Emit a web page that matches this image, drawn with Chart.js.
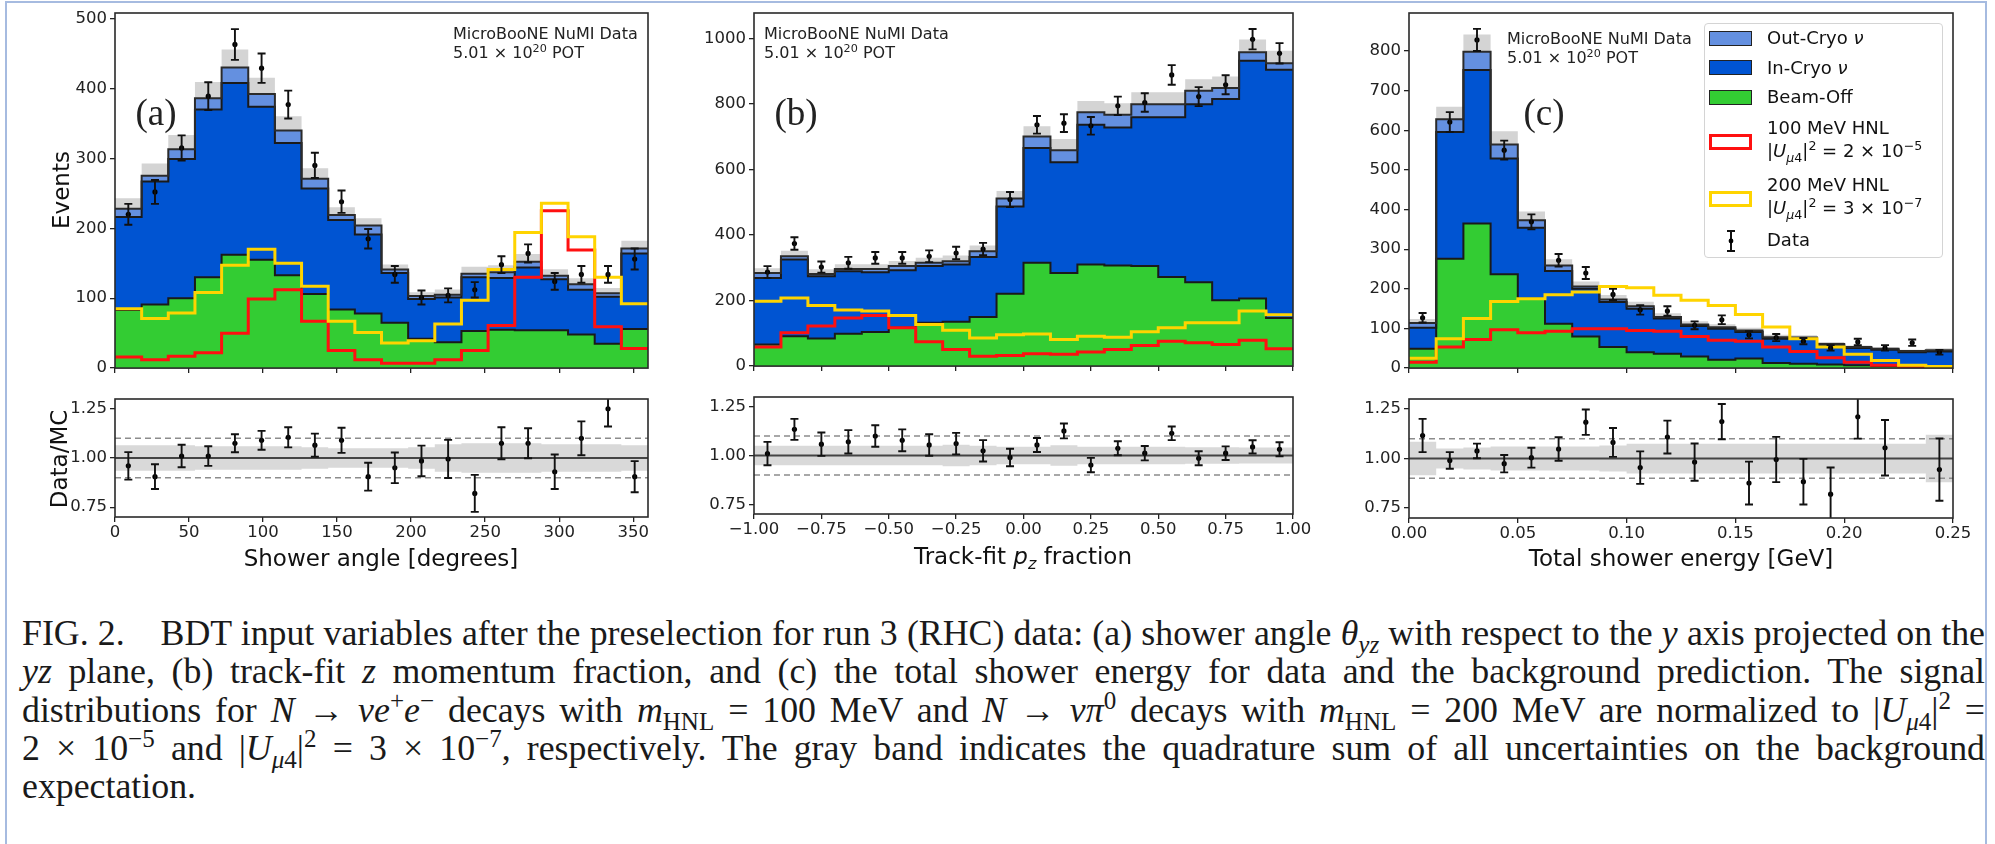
<!DOCTYPE html>
<html>
<head>
<meta charset="utf-8">
<script src="https://cdn.jsdelivr.net/npm/chart.js@4.4.1/dist/chart.umd.min.js"></script>
<style>
  html, body { margin: 0; padding: 0; background: #fff; }
  body { width: 1995px; height: 844px; position: relative; overflow: hidden;
         font-family: "DejaVu Sans", sans-serif; color: #111; }
  .frame { position: absolute; left: 5px; top: 1px; width: 1982px; height: 900px;
           border: 2px solid #a6bbe0; border-bottom: none; box-sizing: border-box; }
  .panel { position: absolute; }
  .t { position: absolute; white-space: nowrap; line-height: 1; }
  .c { transform: translate(-50%, -50%); }
  .l { transform: translate(0, -50%); }
  .rot { transform: translate(-50%, -50%) rotate(-90deg); }
  .axt { font-size: 23px; color: #111; }
  .tag { font-family: "Liberation Serif", serif; font-size: 37px; color: #222; }
  .note { font-size: 16px; color: #222; }
  sup, sub { line-height: 0; font-size: 0.7em; }
  .legend { position: absolute; left: 1704px; top: 23px; width: 239px; height: 235px;
            border: 1px solid #d4d4d4; border-radius: 4px; background: rgba(255,255,255,0.85);
            box-sizing: border-box; }
  .patch { position: absolute; left: 1709px; width: 43px; height: 15px; box-sizing: border-box; }
  .lt { font-size: 18px; color: #111; }
  .caption { position: absolute; left: 22px; top: 614px; width: 1963px;
             font-family: "Liberation Serif", "Times New Roman", serif; font-size: 36px; color: #1a1a1a; }
  .caption div { height: 38.3px; line-height: 38.3px; text-align: justify; text-align-last: justify; }
  .caption div.last { text-align-last: left; }
  .caption i { font-style: italic; }
</style>
</head>
<body>
<div class="frame"></div>

<script>
// ---------------- binning and tick marks ----------------
const nBins = 20;
const angleRange = [0, 360];
const pzRange = [-1, 1];
const energyRange = [0, 0.25];

const angleTicks = [0, 50, 100, 150, 200, 250, 300, 350];
const angleTickLabels = ["0", "50", "100", "150", "200", "250", "300", "350"];
const pzTicks = [-1, -0.75, -0.5, -0.25, 0, 0.25, 0.5, 0.75, 1];
const pzTickLabels = ["\u22121.00", "\u22120.75", "\u22120.50", "\u22120.25", "0.00", "0.25", "0.50", "0.75", "1.00"];
const energyTicks = [0, 0.05, 0.1, 0.15, 0.2, 0.25];
const energyTickLabels = ["0.00", "0.05", "0.10", "0.15", "0.20", "0.25"];

const eventsTicksA = [0, 100, 200, 300, 400, 500];
const eventsTicksB = [0, 200, 400, 600, 800, 1000];
const eventsTicksC = [0, 100, 200, 300, 400, 500, 600, 700, 800];
const ratioTicks = [0.75, 1.0, 1.25];
const ratioTickLabels = ["0.75", "1.00", "1.25"];

// ---------------- (a) shower angle ----------------
const angleBeamOff = [83, 91, 100, 130, 162, 155, 133, 106, 84, 78, 65, 42, 37, 53, 55, 54, 54, 48, 35, 56];
const angleInCryo  = [133, 176, 199, 240, 246, 219, 189, 151, 128, 113, 71, 57, 64, 77, 74, 90, 73, 64, 67, 108];
const angleOutCryo = [12, 8, 14, 16, 22, 18, 18, 14, 7, 13, 5, 4, 4, 5, 8, 8, 5, 8, 5, 7];
const angleBand    = [0.065, 0.065, 0.065, 0.06, 0.06, 0.06, 0.06, 0.055, 0.05, 0.05, 0.05, 0.055, 0.07, 0.075, 0.075, 0.075, 0.07, 0.07, 0.07, 0.065];
const angleHnl100  = [16, 12, 17, 22, 50, 99, 112, 67, 25, 12, 7, 7, 12, 25, 61, 130, 225, 169, 59, 28];
const angleHnl200  = [85, 71, 79, 108, 147, 170, 150, 117, 67, 51, 36, 39, 63, 97, 141, 194, 236, 188, 130, 92];
const angleData    = [220, 252, 315, 389, 463, 429, 377, 290, 238, 185, 134, 101, 104, 112, 148, 164, 124, 134, 134, 156];
const angleDataErr = [15, 17, 18, 20, 22, 21, 20, 18, 16, 14, 12, 10, 10, 11, 12, 13, 12, 12, 12, 15];
const angleRatio    = [0.96, 0.905, 1.01, 1.01, 1.075, 1.09, 1.105, 1.065, 1.09, 0.905, 0.95, 0.985, 0.995, 0.82, 1.075, 1.075, 0.93, 1.10, 1.25, 0.905];
const angleRatioErr = [0.07, 0.063, 0.057, 0.05, 0.046, 0.048, 0.051, 0.059, 0.064, 0.071, 0.078, 0.078, 0.097, 0.094, 0.081, 0.076, 0.088, 0.086, 0.09, 0.079];

// ---------------- (b) track-fit pz fraction ----------------
const pzBeamOff = [66, 91, 84, 99, 104, 117, 132, 135, 150, 221, 315, 284, 310, 307, 305, 272, 256, 201, 206, 147];
const pzInCryo  = [203, 234, 190, 190, 182, 175, 173, 175, 183, 266, 350, 338, 426, 421, 454, 487, 543, 614, 725, 757];
const pzOutCryo = [15, 10, 7, 7, 10, 13, 10, 10, 17, 24, 35, 36, 38, 39, 40, 40, 41, 33, 26, 20];
const pzBand    = [0.05, 0.05, 0.05, 0.05, 0.05, 0.05, 0.05, 0.055, 0.05, 0.045, 0.045, 0.053, 0.045, 0.045, 0.045, 0.045, 0.042, 0.042, 0.041, 0.041];
const pzHnl100  = [58, 102, 122, 147, 154, 117, 74, 51, 30, 32, 38, 36, 43, 51, 63, 76, 71, 66, 79, 53];
const pzHnl200  = [198, 208, 185, 171, 168, 154, 127, 109, 86, 96, 98, 81, 91, 88, 105, 117, 132, 132, 168, 157];
const pzData    = [287, 374, 302, 315, 330, 330, 335, 345, 357, 508, 736, 741, 733, 794, 804, 888, 822, 858, 997, 954];
const pzDataErr = [18, 19, 17, 18, 18, 18, 18, 19, 19, 23, 27, 27, 27, 28, 28, 30, 29, 29, 31, 31];
const pzRatio    = [1.01, 1.134, 1.058, 1.07, 1.10, 1.078, 1.054, 1.061, 1.024, 0.99, 1.054, 1.126, 0.951, 1.037, 1.012, 1.114, 0.986, 1.012, 1.044, 1.032];
const pzRatioErr = [0.06, 0.054, 0.06, 0.06, 0.055, 0.056, 0.055, 0.055, 0.055, 0.045, 0.036, 0.038, 0.037, 0.036, 0.037, 0.035, 0.036, 0.035, 0.034, 0.036];

// ---------------- (c) total shower energy ----------------
const energyBeamOff = [49, 276, 365, 237, 175, 112, 80, 53, 40, 36, 29, 21, 24, 13, 11, 9, 7, 5, 3, 2];
const energyInCryo  = [53, 320, 387, 292, 179, 133, 120, 114, 110, 89, 77, 78, 67, 61, 63, 50, 44, 41, 37, 40];
const energyOutCryo = [12, 32, 46, 35, 19, 14, 6, 6, 6, 4, 4, 4, 4, 4, 3, 2, 2, 3, 3, 3];
const energyBand    = [0.085, 0.05, 0.055, 0.06, 0.06, 0.06, 0.06, 0.065, 0.075, 0.075, 0.075, 0.075, 0.075, 0.075, 0.075, 0.075, 0.075, 0.075, 0.075, 0.12];
const energyHnl100  = [15, 53, 72, 97, 89, 93, 99, 99, 95, 93, 80, 70, 68, 53, 42, 26, 15, 7, 4, 2];
const energyHnl200  = [25, 74, 125, 168, 175, 185, 192, 206, 203, 184, 171, 158, 135, 104, 74, 53, 35, 19, 7, 4];
const energyData    = [127, 621, 828, 550, 369, 272, 240, 186, 147, 144, 108, 122, 84, 77, 68, 51, 66, 51, 64, 40];
const energyDataErr = [12, 25, 28, 24, 19, 16, 15, 14, 12, 12, 10, 11, 9, 9, 8, 7, 8, 7, 8, 6];
const energyRatio    = [1.116, 0.99, 1.038, 0.974, 1.004, 1.048, 1.183, 1.081, 0.954, 1.108, 0.982, 1.186, 0.876, 0.995, 0.883, 0.82, 1.21, 1.054, 1.49, 0.944];
const energyRatioErr = [0.084, 0.042, 0.037, 0.044, 0.05, 0.059, 0.064, 0.073, 0.082, 0.083, 0.094, 0.089, 0.108, 0.114, 0.115, 0.135, 0.11, 0.14, 0.15, 0.157];

// ---------------- style ----------------
const C_OUT = "#6490e0", C_IN = "#0054d2", C_OFF = "#33cc33";
const C_RED = "#ff1010", C_GOLD = "#ffd400", C_EDGE = "#1a1a1a";
const C_BAND = "#d4d4d4", C_RBAND = "#d9d9d9";

Chart.defaults.font.family = "'DejaVu Sans', sans-serif";
Chart.defaults.font.size = 16.5;
Chart.defaults.color = "#222";
Chart.defaults.animation = false;

// ---------------- helpers ----------------
function binEdges(range, n) {
  return Array.from({ length: n + 1 }, (_, i) => range[0] + (range[1] - range[0]) * i / n);
}
function binCenters(edges) {
  return edges.slice(0, -1).map((e, i) => 0.5 * (e + edges[i + 1]));
}
function stepPoints(edges, vals) {
  return edges.map((x, i) => ({ x, y: vals[Math.min(i, vals.length - 1)] }));
}
function fixedTicks(values) {
  return s => { s.ticks = values.map(v => ({ value: v })); };
}

// full box around each axes
const frameBox = {
  id: "frameBox",
  afterDraw(chart) {
    const a = chart.chartArea, ctx = chart.ctx;
    ctx.save();
    ctx.strokeStyle = "#2a2a2a";
    ctx.lineWidth = 1.6;
    ctx.strokeRect(a.left, a.top, a.right - a.left, a.bottom - a.top);
    ctx.restore();
  }
};

// vertical error bars with caps for datasets carrying an errorBars array
const errorBars = {
  id: "errorBars",
  afterDatasetsDraw(chart) {
    const { ctx, chartArea: a, scales: { x, y } } = chart;
    ctx.save();
    ctx.beginPath();
    ctx.rect(a.left, a.top, a.right - a.left, a.bottom - a.top);
    ctx.clip();
    ctx.strokeStyle = "#111";
    ctx.lineWidth = 1.9;
    chart.data.datasets.forEach(ds => {
      if (!ds.errorBars) return;
      ds.data.forEach((p, i) => {
        const e = ds.errorBars[i];
        const px = x.getPixelForValue(p.x);
        const y1 = y.getPixelForValue(p.y - e), y2 = y.getPixelForValue(p.y + e);
        ctx.beginPath();
        ctx.moveTo(px, y1); ctx.lineTo(px, y2);
        ctx.moveTo(px - 4, y1); ctx.lineTo(px + 4, y1);
        ctx.moveTo(px - 4, y2); ctx.lineTo(px + 4, y2);
        ctx.stroke();
      });
    });
    ctx.restore();
  }
};

const tickGrid = { drawOnChartArea: false, drawTicks: true, tickLength: 5, color: "#222", lineWidth: 1.3 };

function baseOptions(xRange, xTicks, xLabels, yRange, yTicks, yLabels, showX) {
  return {
    responsive: false,
    maintainAspectRatio: false,
    animation: false,
    events: [],
    layout: { padding: { top: 14, right: 28, left: 0, bottom: 0 } },
    plugins: { legend: { display: false }, tooltip: { enabled: false },
               filler: { drawTime: "beforeDatasetsDraw" } },
    elements: { line: { tension: 0 }, point: { radius: 0 } },
    scales: {
      x: {
        type: "linear", min: xRange[0], max: xRange[1],
        afterBuildTicks: fixedTicks(xTicks),
        ticks: { display: showX, autoSkip: false, maxRotation: 0, padding: 1,
                 callback: (v, i) => xLabels[i] },
        grid: tickGrid, border: { display: false },
        afterFit: s => { s.height = showX ? 30 : 6; }
      },
      y: {
        type: "linear", min: yRange[0], max: yRange[1],
        afterBuildTicks: fixedTicks(yTicks),
        ticks: { autoSkip: false, padding: 3, callback: (v, i) => yLabels[i] },
        grid: tickGrid, border: { display: false },
        afterFit: s => { s.width = 64; }
      }
    }
  };
}

function mainConfig(p) {
  const edges = binEdges(p.range, nBins);
  const centers = binCenters(edges);
  const offTop = p.beamOff.slice();
  const inTop = offTop.map((v, i) => v + p.inCryo[i]);
  const total = inTop.map((v, i) => v + p.outCryo[i]);
  const bandLo = total.map((v, i) => v * (1 - p.band[i]));
  const bandHi = total.map((v, i) => v * (1 + p.band[i]));
  const stepLine = { stepped: true, pointRadius: 0 };
  return {
    type: "line",
    data: {
      datasets: [
        { ...stepLine, data: stepPoints(edges, bandLo), borderWidth: 0, fill: false, order: 9 },
        { ...stepLine, data: stepPoints(edges, bandHi), borderWidth: 0, fill: "-1",
          backgroundColor: C_BAND, order: 8 },
        { ...stepLine, label: "Beam-Off", data: stepPoints(edges, offTop), borderColor: C_EDGE,
          borderWidth: 2, fill: "origin", backgroundColor: C_OFF, order: 7 },
        { ...stepLine, label: "In-Cryo \u03bd", data: stepPoints(edges, inTop), borderColor: C_EDGE,
          borderWidth: 2, fill: "-1", backgroundColor: C_IN, order: 6 },
        { ...stepLine, label: "Out-Cryo \u03bd", data: stepPoints(edges, total), borderColor: "#2b2b2b",
          borderWidth: 2, fill: "-1", backgroundColor: C_OUT, order: 5 },
        { ...stepLine, label: "100 MeV HNL", data: stepPoints(edges, p.hnl100), borderColor: C_RED,
          borderWidth: 3, fill: false, order: 4 },
        { ...stepLine, label: "200 MeV HNL", data: stepPoints(edges, p.hnl200), borderColor: C_GOLD,
          borderWidth: 3, fill: false, order: 3 },
        { label: "Data", data: centers.map((x, i) => ({ x, y: p.data[i] })), showLine: false,
          pointRadius: 2.6, pointBorderWidth: 0, pointBackgroundColor: "#000",
          errorBars: p.dataErr, order: 1 }
      ]
    },
    options: baseOptions(p.range, p.ticks, p.tickLabels, [0, p.yMax], p.yTicks,
                         p.yTicks.map(String), false),
    plugins: [frameBox, errorBars]
  };
}

function ratioConfig(p) {
  const edges = binEdges(p.range, nBins);
  const centers = binCenters(edges);
  const lo = p.band.map(e => 1 - e), hi = p.band.map(e => 1 + e);
  const flat = v => [{ x: p.range[0], y: v }, { x: p.range[1], y: v }];
  return {
    type: "line",
    data: {
      datasets: [
        { data: stepPoints(edges, lo), stepped: true, borderWidth: 0, fill: false, order: 9 },
        { data: stepPoints(edges, hi), stepped: true, borderWidth: 0, fill: "-1",
          backgroundColor: C_RBAND, order: 8 },
        { data: flat(1.1), borderColor: "#8c8c8c", borderWidth: 1.5, borderDash: [6, 4], fill: false, order: 7 },
        { data: flat(0.9), borderColor: "#8c8c8c", borderWidth: 1.5, borderDash: [6, 4], fill: false, order: 6 },
        { data: flat(1.0), borderColor: "#444", borderWidth: 2.2, fill: false, order: 5 },
        { data: centers.map((x, i) => ({ x, y: p.ratio[i] })), showLine: false,
          pointRadius: 2.6, pointBorderWidth: 0, pointBackgroundColor: "#000",
          errorBars: p.ratioErr, order: 1 }
      ]
    },
    options: baseOptions(p.range, p.ticks, p.tickLabels, [0.7, 1.3], ratioTicks, ratioTickLabels, true),
    plugins: [frameBox, errorBars]
  };
}

// create a chart whose plotting area lands on the given page rectangle
function mount(rect, makeConfig) {
  const wrap = document.createElement("div");
  wrap.className = "panel";
  const cv = document.createElement("canvas");
  wrap.appendChild(cv);
  document.body.appendChild(wrap);
  let w = (rect.R - rect.L) + 92, h = (rect.B - rect.T) + 50;
  let chart = null;
  for (let k = 0; k < 4; k++) {
    cv.width = Math.round(w); cv.height = Math.round(h);
    cv.style.width = cv.width + "px"; cv.style.height = cv.height + "px";
    chart = new Chart(cv, makeConfig());
    const a = chart.chartArea;
    const dw = (rect.R - rect.L) - (a.right - a.left);
    const dh = (rect.B - rect.T) - (a.bottom - a.top);
    if (Math.abs(dw) < 0.5 && Math.abs(dh) < 0.5) break;
    chart.destroy();
    w += dw; h += dh;
  }
  const a = chart.chartArea;
  wrap.style.left = (rect.L - a.left) + "px";
  wrap.style.top = (rect.T - a.top) + "px";
  return chart;
}

const panelA = { range: angleRange, ticks: angleTicks, tickLabels: angleTickLabels, yMax: 508, yTicks: eventsTicksA,
  beamOff: angleBeamOff, inCryo: angleInCryo, outCryo: angleOutCryo, band: angleBand,
  hnl100: angleHnl100, hnl200: angleHnl200, data: angleData, dataErr: angleDataErr,
  ratio: angleRatio, ratioErr: angleRatioErr };
const panelB = { range: pzRange, ticks: pzTicks, tickLabels: pzTickLabels, yMax: 1077, yTicks: eventsTicksB,
  beamOff: pzBeamOff, inCryo: pzInCryo, outCryo: pzOutCryo, band: pzBand,
  hnl100: pzHnl100, hnl200: pzHnl200, data: pzData, dataErr: pzDataErr,
  ratio: pzRatio, ratioErr: pzRatioErr };
const panelC = { range: energyRange, ticks: energyTicks, tickLabels: energyTickLabels, yMax: 896, yTicks: eventsTicksC,
  beamOff: energyBeamOff, inCryo: energyInCryo, outCryo: energyOutCryo, band: energyBand,
  hnl100: energyHnl100, hnl200: energyHnl200, data: energyData, dataErr: energyDataErr,
  ratio: energyRatio, ratioErr: energyRatioErr };

mount({ L: 115, R: 648, T: 13, B: 368 }, () => mainConfig(panelA));
mount({ L: 115, R: 648, T: 399, B: 517 }, () => ratioConfig(panelA));
mount({ L: 754, R: 1293, T: 13, B: 366 }, () => mainConfig(panelB));
mount({ L: 754, R: 1293, T: 397, B: 514 }, () => ratioConfig(panelB));
mount({ L: 1409, R: 1953, T: 13, B: 368 }, () => mainConfig(panelC));
mount({ L: 1409, R: 1953, T: 399, B: 518 }, () => ratioConfig(panelC));
</script>

<!-- axis titles -->
<div class="t rot axt" style="left:61px;top:190px;">Events</div>
<div class="t rot axt" style="left:59px;top:459px;">Data/MC</div>
<div class="t c axt" style="left:381px;top:558px;">Shower angle [degrees]</div>
<div class="t c axt" style="left:1023px;top:556px;">Track-fit <i>p<sub>z</sub></i> fraction</div>
<div class="t c axt" style="left:1681px;top:558px;">Total shower energy [GeV]</div>

<!-- panel tags and run notes -->
<div class="t c tag" style="left:156px;top:112px;">(a)</div>
<div class="t c tag" style="left:796px;top:112px;">(b)</div>
<div class="t c tag" style="left:1544px;top:112px;">(c)</div>

<div class="t l note" style="left:453px;top:34px;">MicroBooNE NuMI Data</div>
<div class="t l note" style="left:453px;top:53px;">5.01 &times; 10<sup>20</sup> POT</div>
<div class="t l note" style="left:764px;top:34px;">MicroBooNE NuMI Data</div>
<div class="t l note" style="left:764px;top:53px;">5.01 &times; 10<sup>20</sup> POT</div>
<div class="t l note" style="left:1507px;top:39px;">MicroBooNE NuMI Data</div>
<div class="t l note" style="left:1507px;top:58px;">5.01 &times; 10<sup>20</sup> POT</div>

<!-- legend of panel (c) -->
<div class="legend"></div>
<div class="patch" style="top:31px;background:#6490e0;border:1.5px solid #222;"></div>
<div class="patch" style="top:60px;background:#0054d2;border:1.5px solid #222;"></div>
<div class="patch" style="top:90px;background:#33cc33;border:1.5px solid #222;"></div>
<div class="patch" style="top:134px;height:16px;background:#fff;border:3px solid #ff1010;"></div>
<div class="patch" style="top:191px;height:16px;background:#fff;border:3px solid #ffd400;"></div>
<svg style="position:absolute;left:1722px;top:229px;" width="18" height="24">
  <line x1="9" y1="2" x2="9" y2="22" stroke="#111" stroke-width="2"/>
  <line x1="5" y1="2" x2="13" y2="2" stroke="#111" stroke-width="2"/>
  <line x1="5" y1="22" x2="13" y2="22" stroke="#111" stroke-width="2"/>
  <circle cx="9" cy="12" r="2.4" fill="#000"/>
</svg>
<div class="t l lt" style="left:1767px;top:38px;">Out-Cryo <i>&nu;</i></div>
<div class="t l lt" style="left:1767px;top:68px;">In-Cryo <i>&nu;</i></div>
<div class="t l lt" style="left:1767px;top:97px;">Beam-Off</div>
<div class="t l lt" style="left:1767px;top:128px;">100 MeV HNL</div>
<div class="t l lt" style="left:1767px;top:151px;">|<i>U</i><sub><i>&mu;</i>4</sub>|<sup>2</sup> = 2 &times; 10<sup>&minus;5</sup></div>
<div class="t l lt" style="left:1767px;top:185px;">200 MeV HNL</div>
<div class="t l lt" style="left:1767px;top:208px;">|<i>U</i><sub><i>&mu;</i>4</sub>|<sup>2</sup> = 3 &times; 10<sup>&minus;7</sup></div>
<div class="t l lt" style="left:1767px;top:240px;">Data</div>

<!-- figure caption -->
<div class="caption" id="caption">
  <div>FIG. 2.&emsp;BDT input variables after the preselection for run 3 (RHC) data: (a) shower angle <i>&theta;</i><sub><i>yz</i></sub> with respect to the <i>y</i> axis projected on the</div>
  <div><i>yz</i> plane, (b) track-fit <i>z</i> momentum fraction, and (c) the total shower energy for data and the background prediction. The signal</div>
  <div>distributions for <i>N</i> &rarr; <i>&nu;e</i><sup>+</sup><i>e</i><sup>&minus;</sup> decays with <i>m</i><sub>HNL</sub> = 100 MeV and <i>N</i> &rarr; <i>&nu;&pi;</i><sup>0</sup> decays with <i>m</i><sub>HNL</sub> = 200 MeV are normalized to |<i>U</i><sub><i>&mu;</i>4</sub>|<sup>2</sup> =</div>
  <div>2 &times; 10<sup>&minus;5</sup> and |<i>U</i><sub><i>&mu;</i>4</sub>|<sup>2</sup> = 3 &times; 10<sup>&minus;7</sup>, respectively. The gray band indicates the quadrature sum of all uncertainties on the background</div>
  <div class="last">expectation.</div>
</div>
<script>
// shrink the caption font just enough that every line fits on one row
(function () {
  const cap = document.getElementById("caption");
  const room = 1958;
  const size = 36;
  let widest = 0;
  Array.from(cap.children).forEach(line => {
    const probe = document.createElement("span");
    probe.innerHTML = line.innerHTML;
    probe.style.whiteSpace = "nowrap";
    probe.style.position = "absolute";
    probe.style.visibility = "hidden";
    cap.appendChild(probe);
    widest = Math.max(widest, probe.getBoundingClientRect().width);
    probe.remove();
  });
  if (widest > room) cap.style.fontSize = (size * room / widest) + "px";
})();
</script>
</body>
</html>
